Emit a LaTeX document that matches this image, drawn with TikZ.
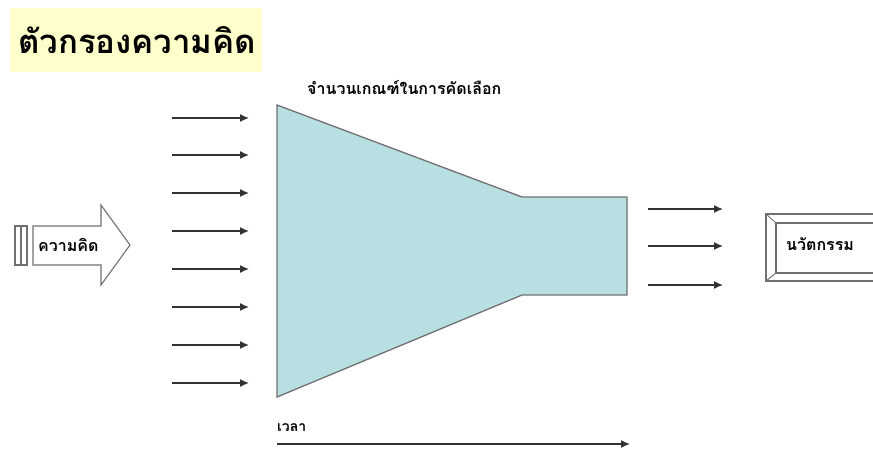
\documentclass[tikz,border=0pt]{standalone}
\usepackage{fontspec}
\newfontfamily\thaifont[Script=Thai]{Loma}
\usetikzlibrary{arrows.meta}
\definecolor{titlebg}{HTML}{FFFFCC}
\definecolor{funnelfill}{HTML}{B8E0E3}
\definecolor{edgegray}{HTML}{707070}
\tikzset{
  flow/.style={draw=black!80, line width=1.4pt, -{Latex[length=9pt,width=8pt]}},
  thaitext/.style={font=\thaifont\bfseries, inner sep=0pt, anchor=west},
}
\begin{document}
\begin{tikzpicture}[x=1pt,y=-1pt]
\useasboundingbox (0,0) rectangle (873,453);
% title
\fill[titlebg] (10,8) rectangle (262,72);
\node[thaitext, font=\thaifont\bfseries\fontsize{33}{36}\selectfont] (title) at (18,40) {ตัวกรองความคิด};
% top label
\node[thaitext, font=\thaifont\bfseries\fontsize{16}{18}\selectfont] (crit) at (307,88) {จำนวนเกณฑ์ในการคัดเลือก};
% funnel
\draw[edgegray, line width=1.3pt, fill=funnelfill, line join=miter]
  (277,105) -- (522,197) -- (627,197) -- (627,295) -- (522,295) -- (277,397) -- cycle;
% input arrows
\foreach \i/\yy in {1/118,2/155,3/193,4/231,5/269,6/307,7/345,8/383}{
  \coordinate (ia\i) at (172,\yy);
  \coordinate (ib\i) at (249,\yy);
  \draw[flow] (ia\i) -- (ib\i);
}
% output arrows
\foreach \i/\yy in {1/209,2/246,3/285}{
  \coordinate (oa\i) at (648,\yy);
  \coordinate (ob\i) at (723,\yy);
  \draw[flow] (oa\i) -- (ob\i);
}
% big idea arrow
\draw[edgegray, line width=1.1pt, fill=white]
  (33,226) -- (101,226) -- (101,205) -- (130,245) -- (101,285) -- (101,265) -- (33,265) -- cycle;
\draw[edgegray, line width=1.1pt, fill=white] (15,226) rectangle (21,265);
\draw[edgegray, line width=1.1pt, fill=white] (21,226) rectangle (27,265);
\node[thaitext, font=\thaifont\bfseries\fontsize{16}{18}\selectfont] (idea) at (38,245) {ความคิด};
% innovation box
\draw[edgegray, line width=1.3pt, fill=white] (766,214) rectangle (880,281);
\draw[edgegray, line width=1.1pt] (776,223) rectangle (880,273);
\draw[edgegray, line width=0.9pt] (766,214) -- (776,223);
\draw[edgegray, line width=0.9pt] (766,281) -- (776,273);
\node[thaitext, font=\thaifont\bfseries\fontsize{16}{18}\selectfont] (innov) at (786,244) {นวัตกรรม};
% time axis
\node[thaitext, font=\thaifont\bfseries\fontsize{14}{16}\selectfont] (time) at (277,428) {เวลา};
\coordinate (ta) at (277,444);
\coordinate (tb) at (630,444);
\draw[flow] (ta) -- (tb);
\end{tikzpicture}
\end{document}
